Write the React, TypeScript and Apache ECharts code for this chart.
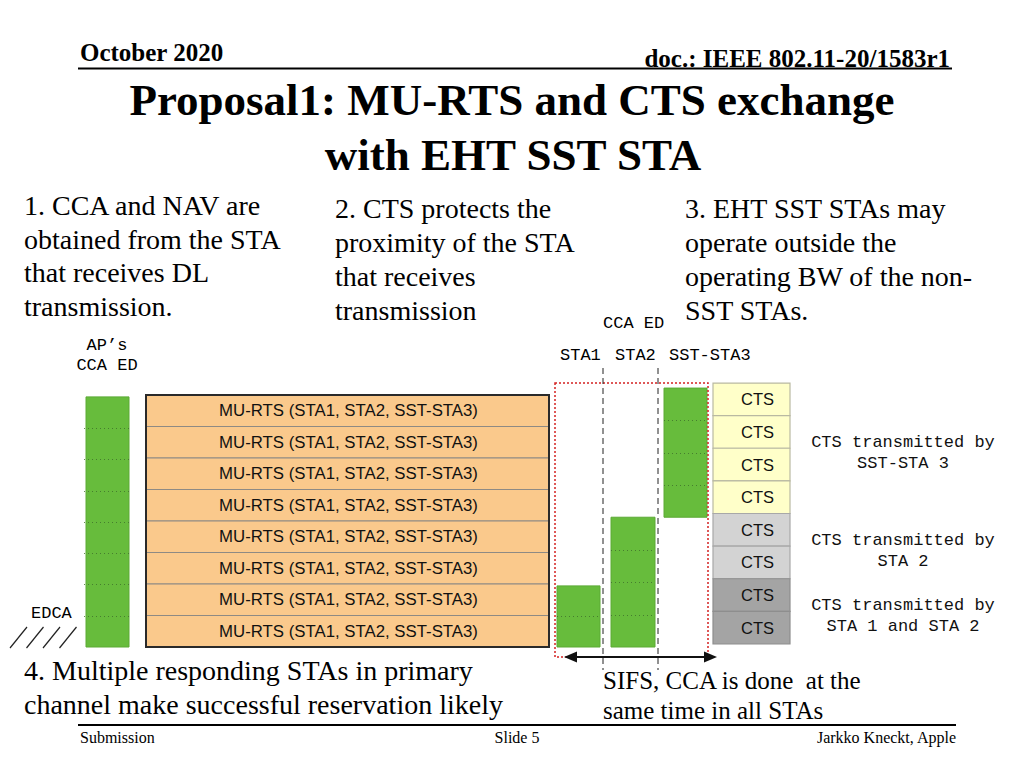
import React, { useEffect, useRef } from "react";
import * as echarts from "echarts";

// ---------- data ----------
const muRtsLabels = [
  "MU-RTS (STA1, STA2, SST-STA3)",
  "MU-RTS (STA1, STA2, SST-STA3)",
  "MU-RTS (STA1, STA2, SST-STA3)",
  "MU-RTS (STA1, STA2, SST-STA3)",
  "MU-RTS (STA1, STA2, SST-STA3)",
  "MU-RTS (STA1, STA2, SST-STA3)",
  "MU-RTS (STA1, STA2, SST-STA3)",
  "MU-RTS (STA1, STA2, SST-STA3)",
];
// busy (CCA ED) spans in 20 MHz channel rows, counted from the primary (bottom) row
const apBusyRows = [0, 7.94];
const staNames = ["STA1", "STA2", "SST-STA3"];
const staBusyFrom = [0, 0, 4.12];
const staBusyTo = [1.94, 4.12, 8.22];
const ctsLabels = ["CTS", "CTS", "CTS", "CTS", "CTS", "CTS", "CTS", "CTS"];
const ctsSenders = [
  "SST-STA 3",
  "SST-STA 3",
  "SST-STA 3",
  "SST-STA 3",
  "STA 2",
  "STA 2",
  "STA 1 and STA 2",
  "STA 1 and STA 2",
];

// ---------- layout / style ----------
const SERIF = '"Liberation Serif", "Times New Roman", serif';
const MONO = '"Liberation Mono", "Courier New", monospace';
const SANS = '"Liberation Sans", Arial, sans-serif';
const BAR_COLS = [
  [86, 129],
  [557, 600],
  [611, 655],
  [664, 707],
];
const MU_COL = [146, 549];
const CTS_COL = [713, 790];
const CTS_TOP = 8.38;
const CTS_BOTTOM = 0.095;
const CTS_FILL: Record<string, string> = {
  "SST-STA 3": "#FFFFC9",
  "STA 2": "#D3D3D3",
  "STA 1 and STA 2": "#A4A4A4",
};
const CTS_STROKE: Record<string, string> = {
  "SST-STA 3": "#B9B9A2",
  "STA 2": "#A8A8A8",
  "STA 1 and STA 2": "#8E8E8E",
};

const txt = (
  text: string,
  x: number,
  y: number,
  font: string,
  align: string = "left"
) => ({
  type: "text",
  silent: true,
  style: { text, x, y, font, fill: "#000", align, verticalAlign: "middle" },
});

export default function App() {
  const ref = useRef<HTMLDivElement>(null);

  useEffect(() => {
    document.body.style.margin = "0";
    if (!ref.current) return;
    const chart = echarts.init(ref.current, undefined, { renderer: "svg" });

    const barData = [
      apBusyRows,
      ...staNames.map((_, i) => [staBusyFrom[i], staBusyTo[i]]),
    ];

    const graphics: any[] = [
      // header
      txt("October 2020", 80, 52, `bold 25px ${SERIF}`),
      txt("doc.: IEEE 802.11-20/1583r1", 950, 58, `bold 25px ${SERIF}`, "right"),
      { type: "line", silent: true, shape: { x1: 78, y1: 68.5, x2: 952, y2: 68.5 }, style: { stroke: "#000", lineWidth: 2 } },
      txt("Proposal1: MU-RTS and CTS exchange", 512, 100, `bold 45px ${SERIF}`, "center"),
      txt("with EHT SST STA", 513, 155, `bold 45px ${SERIF}`, "center"),
      // block 1
      txt("1. CCA and NAV are", 24, 205, `28px ${SERIF}`),
      txt("obtained from the STA", 24, 239, `28px ${SERIF}`),
      txt("that receives DL", 24, 272, `28px ${SERIF}`),
      txt("transmission.", 24, 306, `28px ${SERIF}`),
      // block 2
      txt("2. CTS protects the", 335, 208, `28px ${SERIF}`),
      txt("proximity of the STA", 335, 242, `28px ${SERIF}`),
      txt("that receives", 335, 276, `28px ${SERIF}`),
      txt("transmission", 335, 310, `28px ${SERIF}`),
      // block 3
      txt("3. EHT SST STAs may", 685, 208, `28px ${SERIF}`),
      txt("operate outside the", 685, 242, `28px ${SERIF}`),
      txt("operating BW of the non-", 685, 276, `28px ${SERIF}`),
      txt("SST STAs.", 685, 310, `28px ${SERIF}`),
      // bottom texts
      txt("4. Multiple responding STAs in primary", 24, 670, `28px ${SERIF}`),
      txt("channel make successful reservation likely", 24, 704, `28px ${SERIF}`),
      txt("SIFS, CCA is done  at the", 603, 680, `25px ${SERIF}`),
      txt("same time in all STAs", 603, 710, `25px ${SERIF}`),
      // footer
      { type: "line", silent: true, shape: { x1: 78, y1: 725, x2: 956, y2: 725 }, style: { stroke: "#000", lineWidth: 2 } },
      txt("Submission", 80, 737, `16px ${SERIF}`),
      txt("Slide 5", 517, 737, `16px ${SERIF}`, "center"),
      txt("Jarkko Kneckt, Apple", 956, 737, `16px ${SERIF}`, "right"),
      // mono labels
      txt("CCA ED", 603, 323, `17px ${MONO}`),
      txt("AP\u2019s", 107, 345, `17px ${MONO}`, "center"),
      txt("CCA ED", 107, 365, `17px ${MONO}`, "center"),
      txt(staNames[0], 560, 355, `17px ${MONO}`),
      txt(staNames[1], 615, 355, `17px ${MONO}`),
      txt(staNames[2], 669, 355, `17px ${MONO}`),
      txt("EDCA", 31, 613, `17px ${MONO}`),
      // hatch
      ...[0, 1, 2, 3].map((k) => ({
        type: "line",
        silent: true,
        shape: { x1: 10 + 16.5 * k, y1: 648, x2: 27 + 16.5 * k, y2: 627 },
        style: { stroke: "#222", lineWidth: 1.2 },
      })),
      // red dotted window
      {
        type: "rect",
        silent: true,
        z: 10,
        shape: { x: 555, y: 383, width: 153, height: 274 },
        style: { fill: "none", stroke: "#D42222", lineWidth: 1.5, lineDash: [2, 2] },
      },
      // dashed vertical lines
      { type: "line", silent: true, z: 10, shape: { x1: 603, y1: 368, x2: 603, y2: 670 }, style: { stroke: "#222", lineWidth: 1, lineDash: [6, 4] } },
      { type: "line", silent: true, z: 10, shape: { x1: 658, y1: 368, x2: 658, y2: 670 }, style: { stroke: "#222", lineWidth: 1, lineDash: [6, 4] } },
      // double arrow
      { type: "line", silent: true, z: 11, shape: { x1: 570, y1: 657, x2: 711, y2: 657 }, style: { stroke: "#111", lineWidth: 2 } },
      { type: "polygon", silent: true, z: 11, shape: { points: [[564, 657], [577, 651.5], [577, 662.5]] }, style: { fill: "#111" } },
      { type: "polygon", silent: true, z: 11, shape: { points: [[717, 657], [704, 651.5], [704, 662.5]] }, style: { fill: "#111" } },
    ];

    chart.setOption({
      animation: false,
      backgroundColor: "#fff",
      grid: { left: 0, top: 395, width: 1024, height: 252, show: false, outerBoundsMode: "none" },
      xAxis: { type: "value", min: 0, max: 1024, show: false },
      yAxis: { type: "value", min: 0, max: 8, show: false },
      series: [
        {
          type: "custom",
          name: "MU-RTS",
          clip: false,
          silent: true,
          data: muRtsLabels.map((_, i) => [i]),
          renderItem: (params: any, api: any) => {
            const i = params.dataIndex;
            const p0 = api.coord([MU_COL[0], 8 - i]);
            const p1 = api.coord([MU_COL[1], 7 - i]);
            const children: any[] = [
              {
                type: "rect",
                shape: { x: p0[0], y: p0[1], width: p1[0] - p0[0], height: p1[1] - p0[1] },
                style: { fill: "#FAC98C", stroke: "#8E8A84", lineWidth: 1 },
              },
              {
                type: "text",
                z2: 5,
                style: {
                  text: muRtsLabels[i],
                  x: (p0[0] + p1[0]) / 2 + 1,
                  y: (p0[1] + p1[1]) / 2,
                  align: "center",
                  verticalAlign: "middle",
                  font: `16.8px ${SANS}`,
                  fill: "#111",
                },
              },
            ];
            if (i === muRtsLabels.length - 1) {
              const f0 = api.coord([MU_COL[0], muRtsLabels.length]);
              const f1 = api.coord([MU_COL[1], 0]);
              children.push({
                type: "rect",
                z2: 10,
                shape: { x: f0[0], y: f0[1], width: f1[0] - f0[0], height: f1[1] - f0[1] },
                style: { fill: "none", stroke: "#2A2A2A", lineWidth: 2 },
              });
            }
            return { type: "group", children };
          },
        },
        {
          type: "custom",
          name: "CCA ED busy",
          clip: false,
          silent: true,
          data: barData,
          renderItem: (params: any, api: any) => {
            const i = params.dataIndex;
            const [x0, x1] = BAR_COLS[i];
            const from = api.value(0);
            const to = api.value(1);
            const pt = api.coord([x0, to]);
            const pb = api.coord([x1, from]);
            const h = pb[1] - pt[1];
            const n = Math.round(to - from);
            const children: any[] = [
              {
                type: "rect",
                shape: { x: pt[0], y: pt[1], width: pb[0] - pt[0], height: h },
                style: { fill: "#67BC3C", stroke: "#5CAA35", lineWidth: 1 },
              },
            ];
            for (let k = 1; k < n; k++) {
              const y = Math.round(pt[1] + (h * k) / n) + 0.5;
              children.push({
                type: "line",
                z2: 3,
                shape: { x1: pt[0] - (i === 0 ? 2 : 0), y1: y, x2: pb[0], y2: y },
                style: { stroke: "#3F6E2A", lineWidth: 1, lineDash: [1, 3], opacity: 0.8 },
              });
            }
            return { type: "group", children };
          },
        },
        {
          type: "custom",
          name: "CTS",
          clip: false,
          silent: true,
          data: ctsLabels.map((_, i) => [i]),
          renderItem: (params: any, api: any) => {
            const i = params.dataIndex;
            const n = ctsLabels.length;
            const step = (CTS_TOP - CTS_BOTTOM) / n;
            const sender = ctsSenders[i];
            const p0 = api.coord([CTS_COL[0], CTS_TOP - step * i]);
            const p1 = api.coord([CTS_COL[1], CTS_TOP - step * (i + 1)]);
            const children: any[] = [
              {
                type: "rect",
                shape: { x: p0[0], y: p0[1], width: p1[0] - p0[0], height: p1[1] - p0[1] },
                style: { fill: CTS_FILL[sender], stroke: CTS_STROKE[sender], lineWidth: 1.2 },
              },
              {
                type: "text",
                z2: 5,
                style: {
                  text: ctsLabels[i],
                  x: (p0[0] + p1[0]) / 2 + 6,
                  y: (p0[1] + p1[1]) / 2,
                  align: "center",
                  verticalAlign: "middle",
                  font: `16.5px ${SANS}`,
                  fill: "#111",
                },
              },
            ];
            if (i === 0 || ctsSenders[i - 1] !== sender) {
              let j = i;
              while (j + 1 < n && ctsSenders[j + 1] === sender) j++;
              const g0 = api.coord([0, CTS_TOP - step * i]);
              const g1 = api.coord([0, CTS_TOP - step * (j + 1)]);
              const cy = (g0[1] + g1[1]) / 2 + 5;
              children.push(
                {
                  type: "text",
                  style: { text: "CTS transmitted by", x: 903, y: cy - 10.5, align: "center", verticalAlign: "middle", font: `17px ${MONO}`, fill: "#111" },
                },
                {
                  type: "text",
                  style: { text: sender, x: 903, y: cy + 10.5, align: "center", verticalAlign: "middle", font: `17px ${MONO}`, fill: "#111" },
                }
              );
            }
            return { type: "group", children };
          },
        },
      ],
      graphic: { elements: graphics },
    });

    return () => chart.dispose();
  }, []);

  return <div ref={ref} style={{ width: 1024, height: 768 }} />;
}
